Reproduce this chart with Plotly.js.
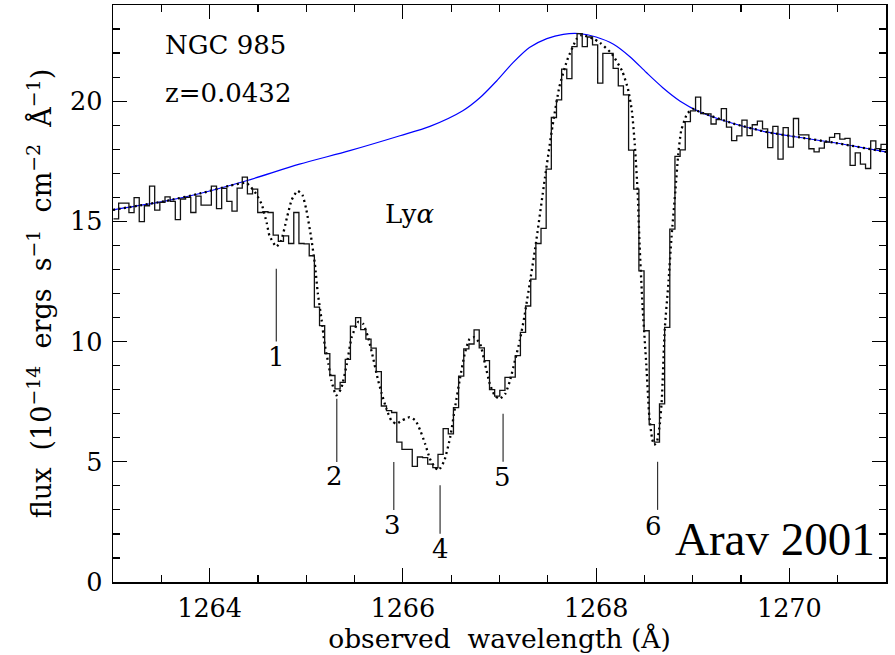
<!DOCTYPE html>
<html><head><meta charset="utf-8">
<script src="https://cdn.plot.ly/plotly-3.0.1.min.js"></script>
<style>html,body{margin:0;padding:0;background:#fff}</style>
</head><body>
<div id="chart" style="width:895px;height:655px"></div>
<script>
// histogram bins (observed flux, 1e-14 ergs/s/cm2/A)
const binStart = 1263.005;
const binWidth = 0.05331;
const flux = [
15.10,15.76,15.76,15.36,15.99,14.99,15.65,16.47,15.47,15.79,
16.02,15.83,15.07,15.93,16.00,15.37,16.05,15.68,15.68,16.47,
15.53,16.37,15.83,15.43,16.38,16.84,16.14,16.34,15.37,15.40,
15.37,14.43,14.17,14.40,14.08,15.37,14.08,14.06,13.57,11.43,
10.66,9.50,8.59,8.03,8.30,9.26,10.64,11.00,10.50,10.10,
9.73,8.75,7.32,7.13,7.05,5.82,5.52,5.52,4.81,5.20,
5.17,4.90,4.76,5.31,6.38,6.16,7.25,8.56,9.70,9.90,
10.49,9.74,9.21,8.00,7.73,7.97,8.51,8.52,9.42,10.38,
11.48,12.60,14.08,14.71,17.17,19.32,20.05,21.33,20.94,22.27,
22.81,22.27,22.67,22.34,20.75,21.99,21.99,21.36,20.64,20.26,
17.96,16.34,12.94,10.45,6.55,5.82,7.41,10.59,14.68,17.70,
17.97,19.15,19.60,20.17,19.48,19.47,19.05,19.23,19.69,18.92,
18.36,18.56,19.21,18.57,19.02,19.17,18.85,18.07,18.95,17.59,
18.90,18.09,19.28,18.60,18.60,18.02,17.89,18.05,18.30,18.49,
18.65,18.42,18.45,17.33,17.85,17.38,17.20,18.35,18.03,18.20
];

// unabsorbed emission model (blue)
const contLam = [1263.00,1263.55,1263.90,1264.38,1264.93,1265.45,1265.97,1266.28,1266.62,1266.80,
1266.97,1267.14,1267.31,1267.49,1267.66,1267.83,1268.00,1268.18,1268.35,1268.52,
1268.69,1268.87,1269.07,1269.42,1269.76,1270.11,1270.45,1271.00];
const contFlux = [15.48,15.85,16.16,16.69,17.38,17.94,18.56,18.95,19.60,20.15,
20.84,21.60,22.23,22.60,22.78,22.81,22.67,22.37,21.85,21.19,
20.56,20.00,19.56,19.07,18.72,18.49,18.28,17.89];

// absorbed model fit (dotted)
const modelLam = [1263.00,1263.55,1263.90,1264.20,1264.38,1264.48,1264.54,1264.59,1264.62,1264.69,
1264.74,1264.80,1264.85,1264.91,1264.96,1265.00,1265.05,1265.09,1265.12,1265.16,
1265.19,1265.23,1265.26,1265.31,1265.36,1265.42,1265.47,1265.54,1265.59,1265.64,
1265.69,1265.74,1265.78,1265.83,1265.88,1265.93,1265.99,1266.04,1266.07,1266.13,
1266.18,1266.23,1266.28,1266.33,1266.37,1266.43,1266.49,1266.54,1266.59,1266.64,
1266.69,1266.74,1266.80,1266.85,1266.90,1266.95,1267.00,1267.06,1267.11,1267.16,
1267.21,1267.26,1267.37,1267.47,1267.55,1267.62,1267.70,1267.80,1267.85,1267.97,
1268.04,1268.16,1268.27,1268.33,1268.37,1268.40,1268.43,1268.45,1268.48,1268.52,
1268.55,1268.58,1268.60,1268.63,1268.66,1268.68,1268.71,1268.75,1268.78,1268.82,
1268.85,1268.88,1268.94,1269.00,1269.07,1269.42,1269.76,1270.11,1270.45,1271.00];
const modelFlux = [15.48,15.85,16.16,16.47,16.60,16.15,15.70,14.95,14.40,13.95,
14.20,15.15,15.90,16.27,16.10,15.50,14.35,13.20,12.00,10.87,
9.90,9.07,8.38,7.76,8.03,9.07,10.18,10.82,10.73,10.18,
9.35,8.45,7.85,7.20,6.72,6.58,6.72,6.81,6.86,6.72,
6.30,5.75,5.13,4.78,4.65,5.06,6.03,7.27,8.45,9.49,
10.11,10.18,9.90,9.07,8.24,7.76,7.62,7.83,8.40,9.21,
10.04,11.10,13.90,16.80,19.00,20.60,21.70,22.60,22.75,22.60,
22.43,21.98,21.25,20.50,19.60,18.20,16.20,14.00,11.50,9.00,
6.90,5.95,5.70,5.85,6.60,7.60,10.50,12.53,14.33,16.27,
17.79,18.77,19.46,19.68,19.56,19.07,18.72,18.49,18.28,17.89];

// absorption components
const featureNames = ['1','2','3','4','5','6'];
const featureLam = [1264.69,1265.316,1265.906,1266.385,1267.037,1268.636];
const featureTop = [13.03,7.62,4.99,4.02,7.00,5.00];
const featureBottom = [10.00,4.99,3.00,2.01,5.00,3.00];
const labelLam = [1264.69,1265.295,1265.89,1266.39,1267.03,1268.59];
const labelFlux = [9.36,4.40,2.36,1.36,4.36,2.32];

const sp = '\u00a0';
const xTitle = 'observed' + sp + sp + 'wavelength' + sp + '(Å)';
const yTitle = 'flux' + sp + sp + '(10<sup>\u221214</sup>' + sp + sp + 'ergs' + sp + sp + 's<sup>\u22121</sup>' + sp + sp +
               'cm<sup>\u22122</sup>' + sp + sp + 'Å<sup>\u22121</sup>)';

const stepY = flux.concat([flux[flux.length - 1]]);

const traces = [
  {type:'scatter', mode:'lines', x:contLam, y:contFlux,
   line:{color:'#0000ff', width:1.2, shape:'spline', smoothing:0.8}, hoverinfo:'skip'},
  {type:'scatter', mode:'lines', x:modelLam, y:modelFlux,
   line:{color:'#000', width:2.3, dash:'2px,3.5px', shape:'spline', smoothing:0.5}, hoverinfo:'skip'},
  {type:'scatter', mode:'lines', x0:binStart, dx:binWidth, y:stepY,
   line:{color:'#111', width:1.3, shape:'hv'}, hoverinfo:'skip'}
];

const shapes = featureLam.map((lam, i) => ({
  type:'line', xref:'x', yref:'y', x0:lam, x1:lam, y0:featureBottom[i], y1:featureTop[i],
  line:{color:'#333', width:1.2}
}));

const serif = 'DejaVu Serif';
const annotations = featureNames.map((t, i) => ({
  text:t, x:labelLam[i], y:labelFlux[i], xref:'x', yref:'y', showarrow:false,
  xanchor:'center', yanchor:'middle', font:{family:serif, size:26, color:'#000'}
}));
annotations.push(
  {text:'NGC 985', x:1263.518, y:22.33, xref:'x', yref:'y', showarrow:false, xanchor:'left', yanchor:'middle',
   font:{family:serif, size:26, color:'#000'}},
  {text:'z=0.0432', x:1263.518, y:20.36, xref:'x', yref:'y', showarrow:false, xanchor:'left', yanchor:'middle',
   font:{family:serif, size:26, color:'#000'}},
  {text:'Ly<i>α</i>', x:1266.07, y:15.30, xref:'x', yref:'y', showarrow:false, xanchor:'center', yanchor:'middle',
   font:{family:serif, size:26, color:'#000'}},
  {text:'Arav 2001', x:0.9884, y:1.77, xref:'paper', yref:'y', showarrow:false, xanchor:'right', yanchor:'middle',
   font:{family:'Liberation Serif', size:47, color:'#000'}}
);

const axisCommon = {
  showline:true, linecolor:'#000', linewidth:1.5, mirror:'ticks',
  ticks:'inside', ticklen:14, tickwidth:1.2, tickcolor:'#000',
  showgrid:false, zeroline:false,
  tickfont:{family:serif, size:25.5, color:'#000'}
};

const layout = {
  width:895, height:655,
  margin:{l:113, r:9, t:5, b:73},
  paper_bgcolor:'#fff', plot_bgcolor:'#fff',
  showlegend:false,
  xaxis:Object.assign({}, axisCommon, {
    range:[1263,1271], tick0:1264, dtick:2, ticklabelstandoff:3,
    minor:{ticks:'inside', ticklen:7, tickwidth:1.2, tickcolor:'#000', dtick:0.5, showgrid:false},
    title:{text:xTitle, font:{family:serif, size:26.5, color:'#000'}, standoff:6}
  }),
  yaxis:Object.assign({}, axisCommon, {
    range:[0,24], tick0:0, dtick:5, ticklabelstandoff:4,
    minor:{ticks:'inside', ticklen:7, tickwidth:1.2, tickcolor:'#000', dtick:1, showgrid:false},
    title:{text:yTitle, font:{family:serif, size:27, color:'#000'}, standoff:10}
  }),
  shapes:shapes,
  annotations:annotations
};

Plotly.newPlot('chart', traces, layout, {staticPlot:true, displayModeBar:false});
</script>
</body></html>
